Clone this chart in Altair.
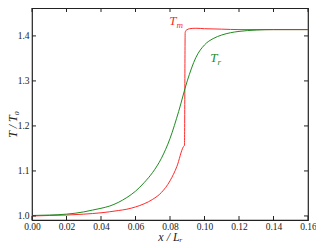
import altair as alt
import pandas as pd

# ---- data ----
red_x = [0.0, 0.01, 0.02, 0.03, 0.04, 0.05, 0.055, 0.06, 0.065, 0.07, 0.075, 0.08,
         0.084, 0.0878, 0.0884, 0.0888, 0.0895, 0.0915, 0.095, 0.10, 0.11, 0.12,
         0.14, 0.16]
red_y = [1.000, 1.001, 1.002, 1.004, 1.007, 1.012, 1.015, 1.020, 1.027, 1.037, 1.052,
         1.078, 1.110, 1.154, 1.157, 1.408, 1.413, 1.416, 1.417, 1.416, 1.415, 1.414,
         1.414, 1.414]

green_x = [0.0, 0.01, 0.02, 0.03, 0.035, 0.04, 0.045, 0.05, 0.055, 0.06, 0.065, 0.07,
           0.075, 0.08, 0.085, 0.09, 0.095, 0.10, 0.105, 0.11, 0.115, 0.12, 0.13,
           0.14, 0.16]
green_y = [1.001, 1.002, 1.004, 1.009, 1.013, 1.017, 1.022, 1.030, 1.041, 1.055, 1.074,
           1.097, 1.128, 1.172, 1.232, 1.300, 1.352, 1.380, 1.394, 1.402, 1.407, 1.410,
           1.413, 1.414, 1.414]

x_ticks = [0.0, 0.02, 0.04, 0.06, 0.08, 0.10, 0.12, 0.14, 0.16]
y_ticks = [1.0, 1.1, 1.2, 1.3, 1.4]

labels_main = ["T", "T"]
labels_sub = ["m", "r"]
labels_x = [0.0838, 0.1075]
labels_y = [1.433, 1.352]
labels_color = ["#ff2a2a", "#1e8c1e"]

X_DOMAIN = [0.0, 0.16]
Y_DOMAIN = [0.991, 1.462]
W, H = 276, 212
FONT = "Liberation Serif"

# ---- tables ----
df = pd.concat([
    pd.DataFrame({"x": red_x, "y": red_y, "s": "Tm"}),
    pd.DataFrame({"x": green_x, "y": green_y, "s": "Tr"}),
])
xt = pd.DataFrame({"x": x_ticks})
yt = pd.DataFrame({"y": y_ticks})
lab = pd.DataFrame({"m": labels_main, "s": labels_sub, "x": labels_x,
                    "y": labels_y, "c": labels_color})

xs = alt.Scale(domain=X_DOMAIN, nice=False, zero=False)
ys = alt.Scale(domain=Y_DOMAIN, nice=False, zero=False)
x_axis = alt.Axis(values=x_ticks, format=".2f", title="x / Lᵣ", titlePadding=1,
                  labelPadding=1)
y_axis = alt.Axis(values=y_ticks, format=".1f", title="T / T₀", labelPadding=3,
                  titleX=-13, titleY=H / 2 + 10)

lines = alt.Chart(df).mark_line(strokeWidth=1, interpolate="monotone", clip=True).encode(
    x=alt.X("x:Q", scale=xs, axis=x_axis),
    y=alt.Y("y:Q", scale=ys, axis=y_axis),
    color=alt.Color("s:N", scale=alt.Scale(domain=["Tm", "Tr"],
                                          range=["#ff2a2a", "#1e8c1e"]), legend=None),
)

tick_len = 4
bx = alt.Chart(xt).mark_rule(color="#222", strokeWidth=1).encode(
    x=alt.X("x:Q", scale=xs, axis=x_axis), y=alt.value(H - tick_len), y2=alt.value(H))
tx = alt.Chart(xt).mark_rule(color="#222", strokeWidth=1).encode(
    x=alt.X("x:Q", scale=xs, axis=x_axis), y=alt.value(0), y2=alt.value(tick_len))
ly = alt.Chart(yt).mark_rule(color="#222", strokeWidth=1).encode(
    y=alt.Y("y:Q", scale=ys, axis=y_axis), x=alt.value(0), x2=alt.value(tick_len))
ry = alt.Chart(yt).mark_rule(color="#222", strokeWidth=1).encode(
    y=alt.Y("y:Q", scale=ys, axis=y_axis), x=alt.value(W - tick_len), x2=alt.value(W))

main_txt = alt.Chart(lab).mark_text(font=FONT, fontSize=13, fontStyle="italic",
                                    align="right", baseline="middle").encode(
    x=alt.X("x:Q", scale=xs, axis=x_axis), y=alt.Y("y:Q", scale=ys, axis=y_axis),
    text="m:N", color=alt.Color("c:N", scale=None))
sub_txt = alt.Chart(lab).mark_text(font=FONT, fontSize=9, fontStyle="italic",
                                   align="left", baseline="middle", dy=4).encode(
    x=alt.X("x:Q", scale=xs, axis=x_axis), y=alt.Y("y:Q", scale=ys, axis=y_axis),
    text="s:N", color=alt.Color("c:N", scale=None))

chart = alt.layer(lines, bx, tx, ly, ry, main_txt, sub_txt).properties(
    width=W, height=H,
    background="white",
    autosize=alt.AutoSizeParams(type="none"),
    padding={"left": 24, "top": 0, "right": 8, "bottom": 30},
).configure_view(stroke="#222", strokeWidth=1.2).configure_axis(
    ticks=False, domain=False, grid=False, labelFontSize=9.5,
    labelFont=FONT, labelColor="#222", labelOverlap=False, labelFlush=False,
    titleFont=FONT, titleFontSize=12, titleFontStyle="italic",
    titleFontWeight="normal", titleColor="#222",
)

chart.save("out.html", embed_options={"renderer": "svg", "actions": False})
